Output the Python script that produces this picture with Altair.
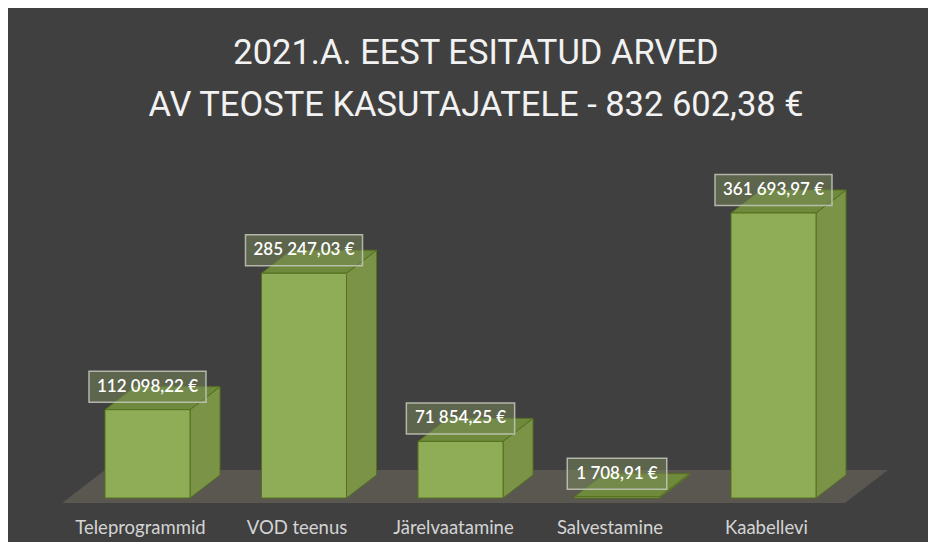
import altair as alt
import pandas as pd

# ---- data ----
categories = ["Teleprogrammid", "VOD teenus", "Järelvaatamine", "Salvestamine", "Kaabellevi"]
values = [112098.22, 285247.03, 71854.25, 1708.91, 361693.97]
title_lines = ["2021.A. EEST ESITATUD ARVED", "AV TEOSTE KASUTAJATELE - 832 602,38 €"]


def fmt(v):
    return f"{v:,.2f}".replace(",", " ").replace(".", ",") + " €"


labels = [fmt(v) for v in values]

# ---- layout constants (pixels) ----
W, H = 920, 402           # plot area
PAD_TOP = 132
PITCH = 156.5             # px between category slots
FIRST_C = 139.5           # px of first slot centre
HALF_W = 42.5 / PITCH     # half bar width in slot units
K = 285.0 / max(values)   # px per euro
BASE_PX = 358             # baseline pixel row in plot
DX = 30 / PITCH           # depth in slot units
DY = 23 / K               # depth in euro units

x_dom = [-FIRST_C / PITCH, (W - FIRST_C) / PITCH]
y_dom = [-(H - BASE_PX) / K, BASE_PX / K]
xs = alt.Scale(domain=x_dom, nice=False, zero=False)
ys = alt.Scale(domain=y_dom, nice=False, zero=False)


def X(f):
    return alt.X(f, type="quantitative", scale=xs, axis=None)


def Y(f):
    return alt.Y(f, type="quantitative", scale=ys, axis=None, stack=None)


front, side, top, boxes, texts = [], [], [], [], []
for i, (c, v, lab) in enumerate(zip(categories, values, labels)):
    front.append(dict(cat=c, x=i - HALF_W, x2=i + HALF_W, y=0, y2=v))
    side.append(dict(cat=c, x=i + HALF_W, y=0, y2=v))
    side.append(dict(cat=c, x=i + HALF_W + DX, y=DY, y2=v + DY))
    top.append(dict(cat=c, y=v, x=i - HALF_W, x2=i + HALF_W))
    top.append(dict(cat=c, y=v + DY, x=i - HALF_W + DX, x2=i + HALF_W + DX))
    bw = (len(lab) * 8.75 + 12) / 2 / PITCH
    bh = 15.5 / K
    boxes.append(dict(cat=c, x=i - bw, x2=i + bw, y=v + DY - bh, y2=v + DY + bh))
    texts.append(dict(cat=c, x=i, y=v + DY, label=lab, ylab=-30 / K))

front = pd.DataFrame(front)
side = pd.DataFrame(side)
top = pd.DataFrame(top)
boxes = pd.DataFrame(boxes)
texts = pd.DataFrame(texts)

n = len(categories)
floor = pd.DataFrame([
    dict(y=-5 / K, x=-0.546, x2=(n - 1) + 0.457),
    dict(y=28 / K, x=-0.2716, x2=(n - 1) + 0.732),
])

floor_l = alt.Chart(floor).mark_area(orient="horizontal", color="#5a5650").encode(
    y=Y("y"), x=X("x"), x2="x2:Q")

side_l = alt.Chart(side).mark_area(color="#7a9346", stroke="#55701f", strokeWidth=1).encode(
    x=X("x"), y=Y("y"), y2="y2:Q", detail="cat:N")

top_l = alt.Chart(top).mark_area(orient="horizontal", color="#6f8a3c", stroke="#55701f",
                                 strokeWidth=1).encode(
    y=Y("y"), x=X("x"), x2="x2:Q", detail="cat:N")

front_l = alt.Chart(front).mark_rect(color="#8fad56", stroke="#55701f", strokeWidth=1).encode(
    x=X("x"), x2="x2:Q", y=Y("y"), y2="y2:Q")

box_l = alt.Chart(boxes).mark_rect(fill="#7a8a5a", fillOpacity=0.5, stroke="#c4c8bc",
                                   strokeOpacity=0.85, strokeWidth=1.5).encode(
    x=X("x"), x2="x2:Q", y=Y("y"), y2="y2:Q")

val_l = alt.Chart(texts).mark_text(font="Lato", fontSize=17, fontWeight=600, color="#ffffff",
                                   baseline="middle", align="center").encode(
    x=X("x"), y=Y("y"), text="label:N")

cat_l = alt.Chart(texts).mark_text(font="Lato", fontSize=18.5, color="#d4d4d4",
                                   baseline="middle", align="center", dx=-7).encode(
    x=X("x"), y=Y("ylab"), text="cat:N")

chart = alt.layer(floor_l, side_l, top_l, front_l, box_l, val_l, cat_l).properties(
    width=W, height=H,
    autosize=alt.AutoSizeParams(type="none"),
    padding={"left": 0, "right": 0, "top": PAD_TOP, "bottom": 0},
    background="#404040",
    title=alt.TitleParams(text=title_lines, font="Roboto", fontSize=34.5,
                          fontWeight="normal", color="#f2f2f2", lineHeight=52,
                          anchor="middle", offset=17, dx=8),
).configure_view(stroke=None)

chart.save("out.html", embed_options={"renderer": "svg", "actions": False})
